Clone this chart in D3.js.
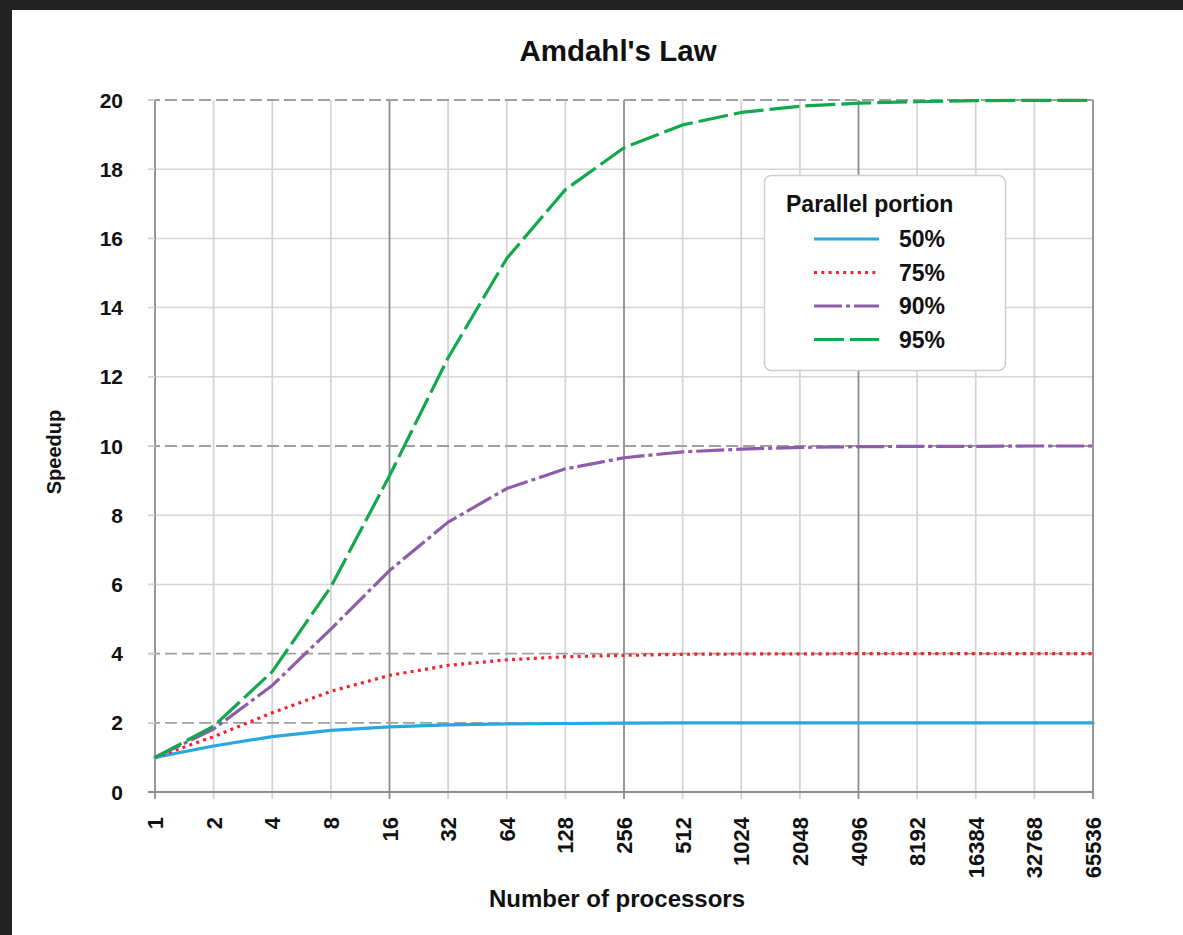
<!DOCTYPE html>
<html><head><meta charset="utf-8">
<script src="https://cdn.jsdelivr.net/npm/d3@7"></script>
<style>
html,body{margin:0;padding:0;background:#222;}
svg{display:block;}
text{font-family:"Liberation Sans",Arial,sans-serif;font-weight:bold;fill:#111;}
</style></head>
<body>
<svg id="c" width="1183" height="935"></svg>
<script>
const processors = [1,2,4,8,16,32,64,128,256,512,1024,2048,4096,8192,16384,32768,65536];
const tickLabels = ["1","2","4","8","16","32","64","128","256","512","1024","2048","4096","8192","16384","32768","65536"];
const seriesNames = ["50%","75%","90%","95%"];
const speedup50 = [1,1.33,1.6,1.78,1.88,1.94,1.97,1.98,1.99,2.0,2.0,2.0,2.0,2.0,2.0,2.0,2.0];
const speedup75 = [1,1.6,2.29,2.91,3.37,3.66,3.82,3.91,3.95,3.98,3.99,3.99,4.0,4.0,4.0,4.0,4.0];
const speedup90 = [1,1.82,3.08,4.71,6.4,7.8,8.77,9.34,9.66,9.83,9.91,9.96,9.98,9.99,9.99,10.0,10.0];
const speedup95 = [1,1.9,3.48,5.93,9.14,12.55,15.42,17.41,18.62,19.28,19.64,19.82,19.91,19.95,19.98,19.99,19.99];
const yTicks = [0,2,4,6,8,10,12,14,16,18,20];
const asymptotes = [2,4,10,20];

const series = [
  {name:seriesNames[0], values:speedup50, color:"#2aa6e2", dash:null, cap:"round"},
  {name:seriesNames[1], values:speedup75, color:"#f2232d", dash:"3,4.3", cap:"butt"},
  {name:seriesNames[2], values:speedup90, color:"#8f5cab", dash:"28,4,4,4", cap:"butt"},
  {name:seriesNames[3], values:speedup95, color:"#12a84c", dash:"30,6", cap:"butt"}
];

const svg = d3.select("#c");
svg.append("rect").attr("x",12).attr("y",10).attr("width",1183-12).attr("height",935-10).attr("fill","#fff");

const L=155, R=1093, T=100, B=792;
const x = d3.scaleLog().base(2).domain([1,65536]).range([L,R]);
const y = d3.scaleLinear().domain([0,20]).range([B,T]);

const g = svg.append("g");
g.selectAll(".hg").data(yTicks.filter(v=>v>0 && !asymptotes.includes(v))).enter().append("line")
 .attr("x1",L).attr("x2",R).attr("y1",d=>y(d)).attr("y2",d=>y(d))
 .attr("stroke","#d6d6d6").attr("stroke-width",1.5);
g.selectAll(".vg").data(processors).enter().append("line")
 .attr("x1",d=>x(d)).attr("x2",d=>x(d)).attr("y1",T).attr("y2",B+7)
 .attr("stroke",(d,i)=> i%4===0 ? "#8c8c8c" : "#d4d4d4").attr("stroke-width",1.8);
g.selectAll(".ag").data(asymptotes).enter().append("line")
 .attr("x1",L-7).attr("x2",R).attr("y1",d=>y(d)).attr("y2",d=>y(d))
 .attr("stroke","#a0a0a0").attr("stroke-width",1.8).attr("stroke-dasharray","12,5");
g.selectAll(".yt").data(yTicks).enter().append("line")
 .attr("x1",L-7).attr("x2",L).attr("y1",d=>y(d)).attr("y2",d=>y(d))
 .attr("stroke",d=>d===0?"#8c8c8c":"#d4d4d4").attr("stroke-width",1.8);
g.append("line").attr("x1",L-7).attr("x2",R).attr("y1",B).attr("y2",B).attr("stroke","#8c8c8c").attr("stroke-width",1.8);

g.selectAll(".yl").data(yTicks).enter().append("text")
 .attr("x",L-32).attr("y",d=>y(d)).attr("dy","0.36em").attr("text-anchor","end")
 .attr("font-size",21).text(d=>d);
g.selectAll(".xl").data(processors).enter().append("text")
 .attr("transform",d=>`translate(${x(d)+8},817) rotate(-90)`)
 .attr("text-anchor","end").attr("font-size",22).text((d,i)=>tickLabels[i]);

const line = d3.line().x((d,i)=>x(processors[i])).y(d=>y(d));
series.forEach(s=>{
  g.append("path").attr("d",line(s.values)).attr("fill","none")
   .attr("stroke",s.color).attr("stroke-width",3.2)
   .attr("stroke-dasharray",s.dash).attr("stroke-linecap",s.cap).attr("stroke-linejoin","round");
});

svg.append("text").attr("x",618).attr("y",61).attr("text-anchor","middle").attr("font-size",29.5).text("Amdahl's Law");
svg.append("text").attr("x",617).attr("y",907).attr("text-anchor","middle").attr("font-size",24).text("Number of processors");
svg.append("text").attr("transform","translate(61,452) rotate(-90)").attr("text-anchor","middle").attr("font-size",20).text("Speedup");

const lg = svg.append("g");
lg.append("rect").attr("x",764.5).attr("y",175.5).attr("width",241).attr("height",195).attr("rx",7)
  .attr("fill","#fff").attr("stroke","#cfcfcf").attr("stroke-width",1.5);
lg.append("text").attr("x",786).attr("y",212).attr("font-size",23).text("Parallel portion");
series.forEach((s,i)=>{
  const yy = 239 + i*33.5;
  lg.append("line").attr("x1",814).attr("x2",879).attr("y1",yy).attr("y2",yy)
    .attr("stroke",s.color).attr("stroke-width",3.2).attr("stroke-dasharray",s.dash);
  lg.append("text").attr("x",899).attr("y",yy).attr("dy","0.36em").attr("font-size",23).text(s.name);
});
</script>
</body></html>
